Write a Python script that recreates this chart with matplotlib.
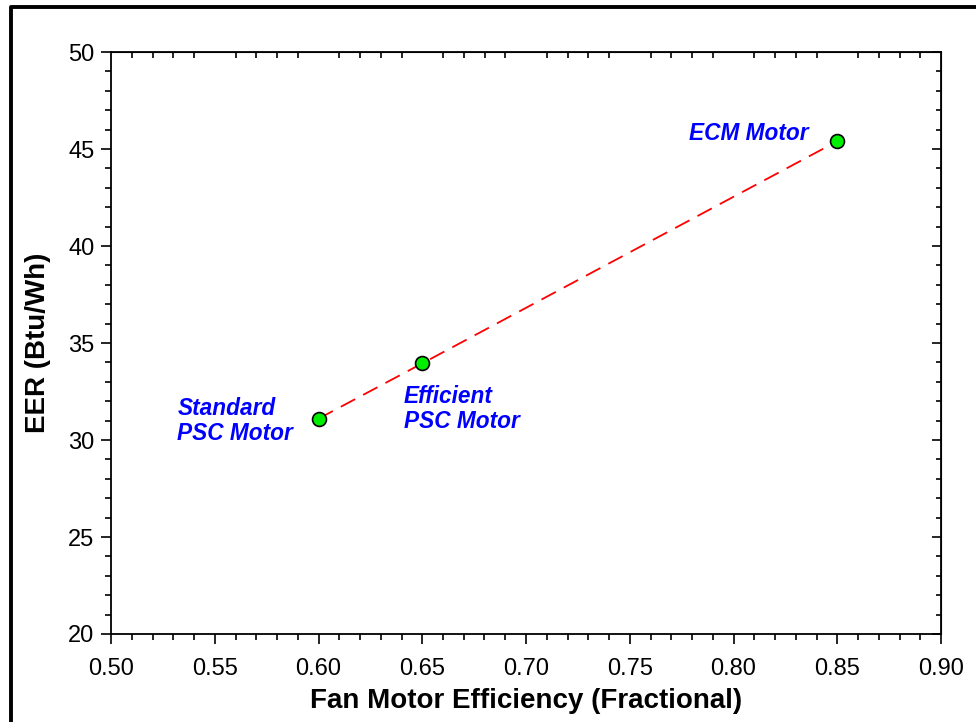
import matplotlib.pyplot as plt
from matplotlib.lines import Line2D
from matplotlib.ticker import MultipleLocator, NullFormatter

plt.rcParams['font.family'] = ['Liberation Sans', 'DejaVu Sans']

efficiency = [0.60, 0.65, 0.85]
eer = [31.1, 33.95, 45.4]
labels = ["Standard\nPSC Motor", "Efficient\nPSC Motor", "ECM Motor"]
label_x = [0.532, 0.641, 0.836]
label_y = [31.0, 31.6, 45.8]
label_ha = ["left", "left", "right"]

fig = plt.figure(figsize=(9.76, 7.22), dpi=100)
ax = fig.add_axes([111/976, 1-634/722, (941-111)/976, (634-52)/722])

ax.plot(efficiency, eer, color="red", lw=1.3, ls=(0, (9, 5)), zorder=2)
ax.plot(efficiency, eer, "o", ms=10, mfc="#00ee00", mec="black", mew=1.2, zorder=3)

for t, x, y, ha in zip(labels, label_x, label_y, label_ha):
    ax.text(x, y, t, ha=ha, va="center", color="#0000ff", fontsize=16.3,
            fontweight="bold", fontstyle="italic", linespacing=1.12)

ax.set_xlim(0.5, 0.9)
ax.set_ylim(20, 50)
ax.xaxis.set_major_locator(MultipleLocator(0.05))
ax.xaxis.set_minor_locator(MultipleLocator(0.01))
ax.yaxis.set_major_locator(MultipleLocator(5))
ax.yaxis.set_minor_locator(MultipleLocator(1))
ax.xaxis.set_major_formatter(lambda v, p: "%.2f" % v)
ax.tick_params(which="major", direction="out", length=7, width=1.2, labelsize=17, pad=5)
ax.tick_params(axis="x", which="major", pad=10)
ax.tick_params(which="minor", direction="out", length=4, width=1.2)
for s in ax.spines.values():
    s.set_linewidth(1.3)

# top axis: inward minor ticks only
top = ax.secondary_xaxis("top")
top.xaxis.set_major_locator(MultipleLocator(0.05))
top.xaxis.set_minor_locator(MultipleLocator(0.01))
top.tick_params(which="major", length=0, labeltop=False)
top.tick_params(which="minor", direction="in", length=4, width=1.2)
top.xaxis.set_major_formatter(NullFormatter())

right = ax.secondary_yaxis("right")
right.yaxis.set_major_locator(MultipleLocator(5))
right.yaxis.set_minor_locator(MultipleLocator(1))
right.tick_params(which="major", direction="in", length=6.5, width=1.2, labelright=False)
right.tick_params(which="minor", direction="in", length=3.5, width=1.2)
right.yaxis.set_major_formatter(NullFormatter())

ax.set_xlabel("Fan Motor Efficiency (Fractional)", fontsize=20, fontweight="bold", labelpad=6)
ax.set_ylabel("EER (Btu/Wh)", fontsize=20, fontweight="bold", labelpad=12)

# outer frame (left and top edges visible)
fig.add_artist(Line2D([11/976, 11/976, 1], [0, 1-6.5/722, 1-6.5/722],
                      transform=fig.transFigure, color="black", lw=2.8))

fig.savefig("out.png", dpi=100)
